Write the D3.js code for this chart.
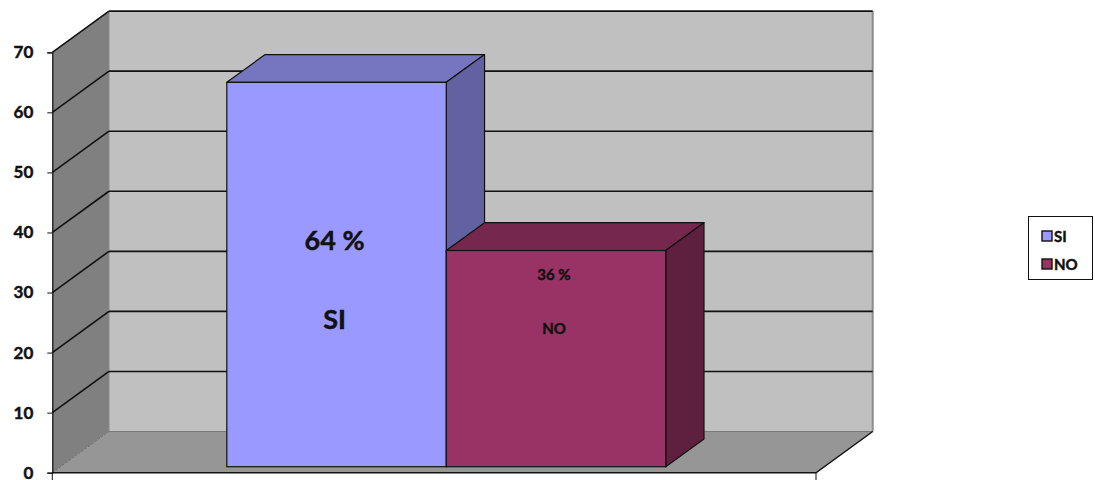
<!DOCTYPE html>
<html>
<head>
<meta charset="utf-8">
<script src="https://cdn.jsdelivr.net/npm/d3@7/dist/d3.min.js"></script>
<style>
  html, body { margin: 0; padding: 0; background: #ffffff; }
  svg { display: block; font-family: Lato, "Open Sans", sans-serif; }
  .heavy { stroke: #111; stroke-width: 0.45px; paint-order: stroke fill; }
</style>
</head>
<body>
<svg id="chart" width="1095" height="480"></svg>
<script>
// Survey answers
const categories = ["SI", "NO"];
const values = [64, 36];
const valueLabels = ["64 %", "36 %"];
const yTicks = [0, 10, 20, 30, 40, 50, 60, 70];

// Styling
const frontColors = ["#9999ff", "#993366"];
const topColors = ["#7676c0", "#75274d"];
const sideColors = ["#6262a2", "#5f1f3f"];
const labelFontSizes = [27, 15];

const svg = d3.select("#chart");

// Front plane of the plot box
const y = d3.scaleLinear().domain([0, 70]).range([472.7, 52.3]);
const x = d3.scaleBand()
  .domain(categories)
  .range([52.3, 816])
  .paddingInner(0)
  .paddingOuter(0.74)
  .align(0.512);

// Depth of the 3D box and of the columns inside it
const D = { dx: 56.7, dy: -41.2 };
const depthAt = f => ({ dx: D.dx * f, dy: D.dy * f });
const barFront = depthAt(0.145);
const barBack = depthAt(0.82);

const pts = arr => arr.map(p => p.join(",")).join(" ");
const x0 = x.range()[0], x1 = x.range()[1];

// Back wall
svg.append("polygon")
  .attr("points", pts([
    [x0 + D.dx, y(70) + D.dy], [x1 + D.dx, y(70) + D.dy],
    [x1 + D.dx, y(0) + D.dy], [x0 + D.dx, y(0) + D.dy]]))
  .attr("fill", "#c0c0c0");

// Left wall
svg.append("polygon")
  .attr("points", pts([
    [x0, y(70)], [x0 + D.dx, y(70) + D.dy],
    [x0 + D.dx, y(0) + D.dy], [x0, y(0)]]))
  .attr("fill", "#808080");

// Floor
svg.append("polygon")
  .attr("points", pts([
    [x0, y(0)], [x0 + D.dx, y(0) + D.dy],
    [x1 + D.dx, y(0) + D.dy], [x1, y(0)]]))
  .attr("fill", "#969696");

// Wall edges
svg.append("line")
  .attr("x1", x0 + D.dx).attr("y1", y(70) + D.dy)
  .attr("x2", x0 + D.dx).attr("y2", y(0) + D.dy)
  .attr("stroke", "#8a8a8a").attr("stroke-width", 1);
svg.append("line")
  .attr("x1", x1 + D.dx).attr("y1", y(70) + D.dy)
  .attr("x2", x1 + D.dx).attr("y2", y(0) + D.dy)
  .attr("stroke", "#8c8c8c").attr("stroke-width", 2);
svg.append("line")
  .attr("x1", x0 + D.dx).attr("y1", y(0) + D.dy)
  .attr("x2", x1 + D.dx).attr("y2", y(0) + D.dy)
  .attr("stroke", "#7a7a7a").attr("stroke-width", 1);
svg.append("line")
  .attr("x1", x0).attr("y1", y(0))
  .attr("x2", x0 + D.dx).attr("y2", y(0) + D.dy)
  .attr("stroke", "#6e6e6e").attr("stroke-width", 1)
  .attr("stroke-dasharray", "3,1");

// Gridlines on back and left walls
const grid = yTicks.filter(v => v > 0);
svg.append("g").selectAll("line.back")
  .data(grid).join("line")
  .attr("x1", x0 + D.dx).attr("x2", x1 + D.dx)
  .attr("y1", d => y(d) + D.dy).attr("y2", d => y(d) + D.dy)
  .attr("stroke", "#111").attr("stroke-width", 1.6);
svg.append("g").selectAll("line.left")
  .data(grid).join("line")
  .attr("x1", x0).attr("y1", d => y(d))
  .attr("x2", x0 + D.dx).attr("y2", d => y(d) + D.dy)
  .attr("stroke", "#111").attr("stroke-width", 1.6);

// Floor front and right edges
svg.append("polyline")
  .attr("points", pts([[x0, y(0)], [x1, y(0)], [x1 + D.dx, y(0) + D.dy]]))
  .attr("fill", "none").attr("stroke", "#111").attr("stroke-width", 1.4);

// Category axis end ticks
svg.append("g").selectAll("line")
  .data([x0, x1]).join("line")
  .attr("x1", d => d).attr("x2", d => d)
  .attr("y1", y(0)).attr("y2", 480)
  .attr("stroke", "#111").attr("stroke-width", 1);

// Value axis
const yAxis = d3.axisLeft(y).tickValues(yTicks).tickSize(5).tickPadding(14);
const gy = svg.append("g").attr("transform", `translate(${x0},0)`).call(yAxis);
gy.select(".domain").attr("stroke", "#111").attr("stroke-width", 1.2);
gy.selectAll(".tick line").attr("stroke", "#111");
gy.selectAll(".tick text")
  .attr("class", "heavy")
  .attr("font-family", "Lato, sans-serif")
  .attr("font-weight", "bold")
  .attr("font-size", 17)
  .attr("fill", "#111");

// Columns
const bars = svg.append("g").selectAll("g")
  .data(categories.map((c, i) => ({ c, v: values[i], i })))
  .join("g");

bars.each(function (d) {
  const g = d3.select(this);
  const l = x(d.c) + barFront.dx;
  const r = x(d.c) + x.bandwidth() + barFront.dx;
  const t = y(d.v) + barFront.dy;
  const b = y(0) + barFront.dy;
  const ddx = barBack.dx - barFront.dx;
  const ddy = barBack.dy - barFront.dy;
  // top
  g.append("polygon")
    .attr("points", pts([[l, t], [l + ddx, t + ddy], [r + ddx, t + ddy], [r, t]]))
    .attr("fill", topColors[d.i]).attr("stroke", "#111").attr("stroke-width", 1.2)
    .attr("stroke-linejoin", "round");
  // side
  g.append("polygon")
    .attr("points", pts([[r, t], [r + ddx, t + ddy], [r + ddx, b + ddy], [r, b]]))
    .attr("fill", sideColors[d.i]).attr("stroke", "#111").attr("stroke-width", 1.2)
    .attr("stroke-linejoin", "round");
  // front
  g.append("rect")
    .attr("x", l).attr("y", t)
    .attr("width", r - l).attr("height", b - t)
    .attr("fill", frontColors[d.i]).attr("stroke", "#111").attr("stroke-width", 1.2);
});

// Value and category labels inside the columns
const labelY = [[250, 329], [280, 334]];
categories.forEach((c, i) => {
  const cx = x(c) + x.bandwidth() / 2 + barFront.dx - 2;
  svg.append("text")
    .attr("class", "heavy")
    .attr("x", cx).attr("y", labelY[i][0])
    .attr("text-anchor", "middle")
    .attr("font-weight", "bold").attr("font-size", labelFontSizes[i])
    .attr("fill", "#111")
    .text(valueLabels[i]);
  svg.append("text")
    .attr("class", "heavy")
    .attr("x", cx).attr("y", labelY[i][1])
    .attr("text-anchor", "middle")
    .attr("font-weight", "bold").attr("font-size", labelFontSizes[i])
    .attr("fill", "#111")
    .text(c);
});

// Legend
const legend = svg.append("g").attr("transform", "translate(1028,216)");
legend.append("rect")
  .attr("x", 0.5).attr("y", 0.5).attr("width", 64).attr("height", 63)
  .attr("fill", "#fff").attr("stroke", "#111").attr("stroke-width", 1);
const items = legend.selectAll("g.item")
  .data(categories).join("g")
  .attr("transform", (d, i) => `translate(14,${15 + i * 28})`);
items.append("rect")
  .attr("width", 10).attr("height", 10)
  .attr("fill", (d, i) => frontColors[i])
  .attr("stroke", "#111").attr("stroke-width", 1.4);
items.append("text")
  .attr("class", "heavy")
  .attr("x", 12).attr("y", 10.5)
  .attr("font-weight", "bold").attr("font-size", 15)
  .attr("fill", "#111")
  .text(d => d);
</script>
</body>
</html>
